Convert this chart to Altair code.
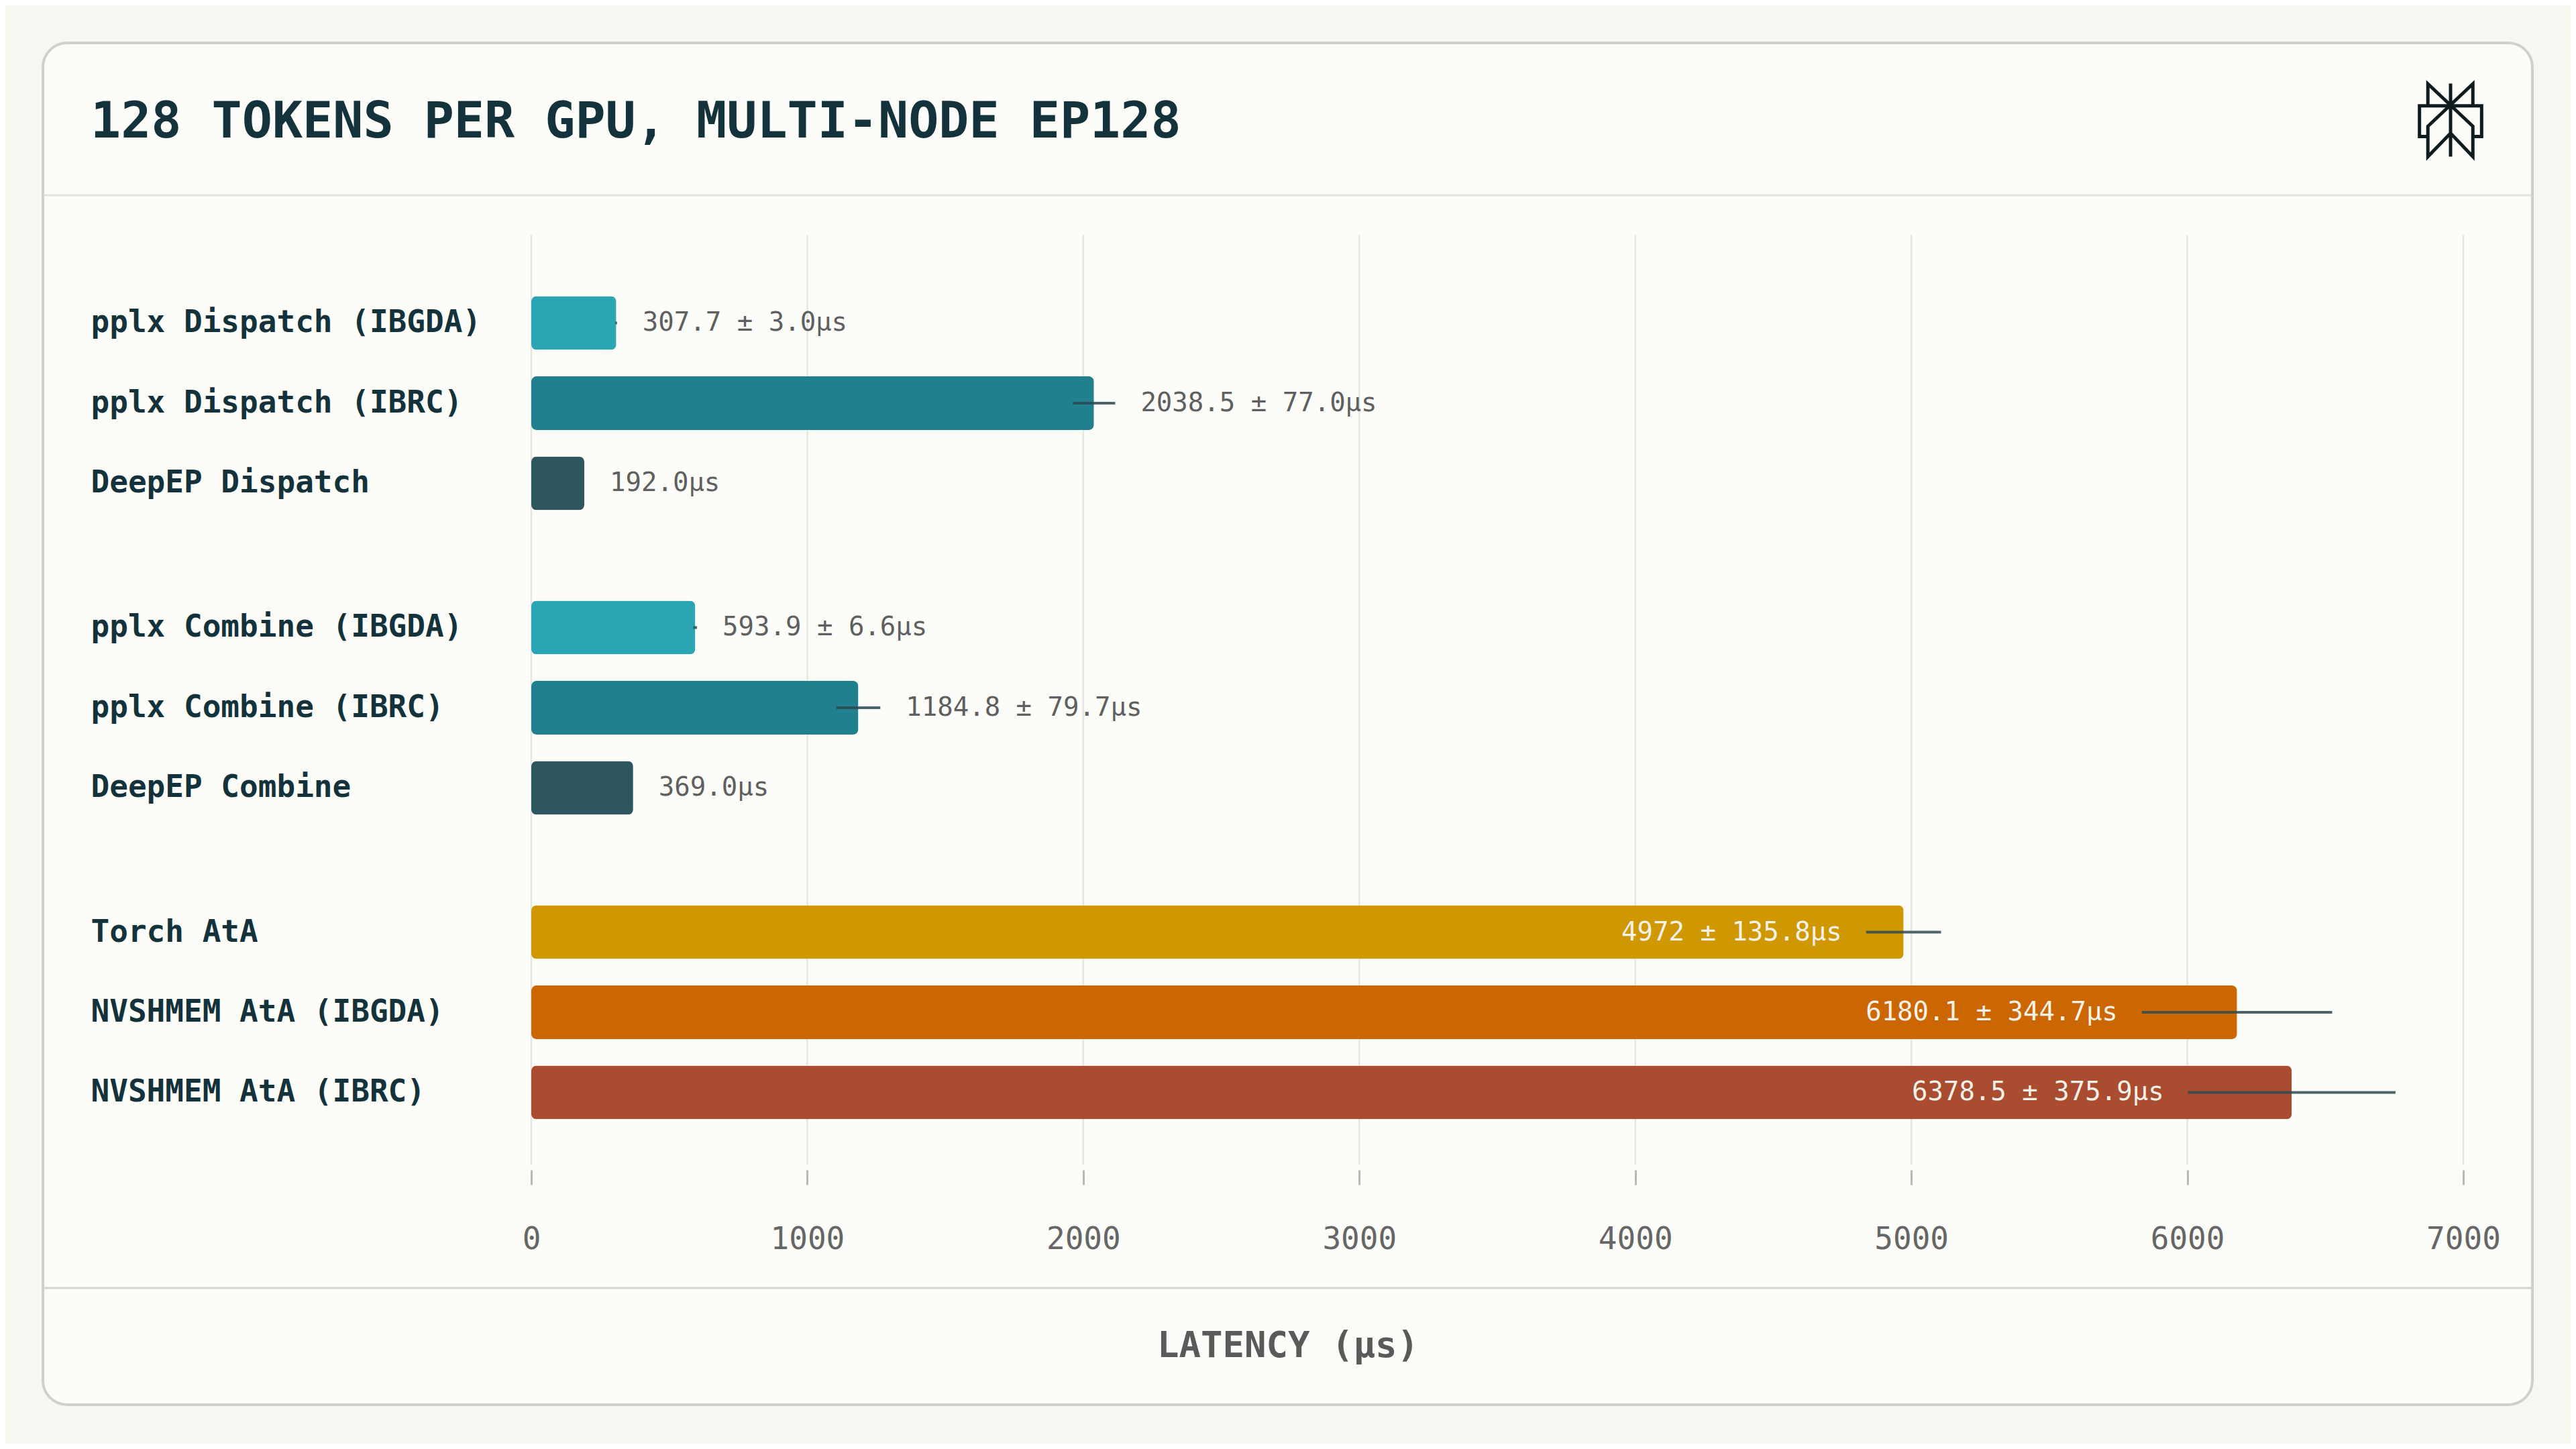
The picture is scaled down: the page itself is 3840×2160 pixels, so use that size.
import altair as alt
import pandas as pd

# ---------------- data ----------------
TITLE = "128 TOKENS PER GPU, MULTI-NODE EP128"
X_TITLE = "LATENCY (μs)"

categories = [
    "pplx Dispatch (IBGDA)",
    "pplx Dispatch (IBRC)",
    "DeepEP Dispatch",
    "pplx Combine (IBGDA)",
    "pplx Combine (IBRC)",
    "DeepEP Combine",
    "Torch AtA",
    "NVSHMEM AtA (IBGDA)",
    "NVSHMEM AtA (IBRC)",
]
groups = [0, 0, 0, 1, 1, 1, 2, 2, 2]
latency_us = [307.7, 2038.5, 192.0, 593.9, 1184.8, 369.0, 4972.0, 6180.1, 6378.5]
error_us = [3.0, 77.0, 0.0, 6.6, 79.7, 0.0, 135.8, 344.7, 375.9]
value_labels = [
    "307.7 ± 3.0μs",
    "2038.5 ± 77.0μs",
    "192.0μs",
    "593.9 ± 6.6μs",
    "1184.8 ± 79.7μs",
    "369.0μs",
    "4972 ± 135.8μs",
    "6180.1 ± 344.7μs",
    "6378.5 ± 375.9μs",
]
bar_colors = [
    "#2ba4b4", "#20808d", "#2e565e",
    "#2ba4b4", "#20808d", "#2e565e",
    "#cf9700", "#cc6600", "#a94c30",
]
label_inside = [False, False, False, False, False, False, True, True, True]
x_ticks = [0, 1000, 2000, 3000, 4000, 5000, 6000, 7000]

# ---------------- row layout (fine band grid with blank spacer rows) ----------------
TOP_BLANK, ROW_STEP, GROUP_STEP, BOTTOM_BLANK = 5, 5, 9, 4
row_order = []
_spacer = [0]


def _blank(n):
    for _ in range(n):
        row_order.append(f"_s{_spacer[0]}")
        _spacer[0] += 1


_blank(TOP_BLANK)
for i, cat in enumerate(categories):
    if i > 0:
        step = GROUP_STEP if groups[i] != groups[i - 1] else ROW_STEP
        _blank(step - 1)
    row_order.append(cat)
_blank(BOTTOM_BLANK)

df = pd.DataFrame({
    "category": categories,
    "latency": latency_us,
    "err": error_us,
    "label": value_labels,
    "color": bar_colors,
    "inside": label_inside,
})
df["lo"] = df["latency"] - df["err"]
df["hi"] = df["latency"] + df["err"]

one = pd.DataFrame({"k": [0]})
ticks_df = pd.DataFrame({"t": x_ticks})

# ---------------- style ----------------
FONT = "DejaVu Sans Mono"
PAGE = "#f7f7f2"
CARD = "#fcfcf9"
BORDER = "#d0d0c8"
SEP = "#e2e2dd"
GRID = "#e6e6e1"
DARK = "#14323b"
GRAY = "#5f5f5f"
W, H = 2880, 1386

xscale = alt.Scale(domain=[0, 7000], nice=False, zero=True)
yscale = alt.Scale(domain=row_order, paddingInner=0, paddingOuter=0)

xaxis = alt.Axis(
    values=x_ticks, format="d", title=None, grid=False, domain=False,
    ticks=True, tickSize=22, tickWidth=3, tickColor="#b9b9b3", offset=8,
    labelFont=FONT, labelFontSize=46, labelColor="#666666",
    labelPadding=81, labelBaseline="middle", labelFlush=False, zindex=1,
)
yaxis = alt.Axis(
    title=None, grid=False, domain=False, ticks=False, tickSize=0,
    labelFont=FONT, labelFontSize=46, labelFontWeight="bold", labelColor=DARK,
    labelAlign="left", labelBaseline="middle", labelPadding=657, labelLimit=0,
    labelOverlap=False,
    labelExpr="indexof(datum.label, '_s') === 0 ? '' : datum.label", zindex=1,
)

Y = alt.Y("category:N", scale=yscale, axis=yaxis, sort=row_order)

# ---------------- layers ----------------
card = alt.Chart(one).mark_rect(
    fill=CARD, stroke=BORDER, strokeWidth=4, cornerRadius=36
).encode(x=alt.value(-728), x2=alt.value(2983), y=alt.value(-286), y2=alt.value(1744))

sep_top = alt.Chart(one).mark_rule(color=SEP, strokeWidth=3).encode(
    x=alt.value(-726), x2=alt.value(2981), y=alt.value(-59)
)
sep_bottom = alt.Chart(one).mark_rule(color="#d3d3cc", strokeWidth=3).encode(
    x=alt.value(-726), x2=alt.value(2981), y=alt.value(1570)
)

grid = alt.Chart(ticks_df).mark_rule(color=GRID, strokeWidth=2.5).encode(
    x=alt.X("t:Q", scale=xscale, axis=xaxis), y=alt.value(0), y2=alt.value(H)
)

bars = alt.Chart(df).mark_bar(cornerRadius=8, size=80).encode(
    x=alt.X("latency:Q", scale=xscale, axis=xaxis),
    y=Y,
    color=alt.Color("color:N", scale=None),
)

errbars = alt.Chart(df).transform_filter("datum.err > 0").mark_rule(
    color="#2d4a51", strokeWidth=4, opacity=0.85
).encode(x=alt.X("lo:Q", scale=xscale, axis=xaxis), x2="hi:Q", y=Y)

text_out = alt.Chart(df).transform_filter("!datum.inside").mark_text(
    align="left", baseline="middle", dx=38, font=FONT, fontSize=39, color=GRAY
).encode(x=alt.X("hi:Q", scale=xscale, axis=xaxis), y=Y, text="label:N")

text_in = alt.Chart(df).transform_filter("datum.inside").mark_text(
    align="right", baseline="middle", dx=-36, font=FONT, fontSize=39, color="#f6f2ea"
).encode(x=alt.X("lo:Q", scale=xscale, axis=xaxis), y=Y, text="label:N")

title_txt = alt.Chart(one).mark_text(
    text=TITLE, align="left", baseline="middle", font=FONT, fontSize=75,
    fontWeight="bold", color=DARK
).encode(x=alt.value(-657), y=alt.value(-168))

xtitle_txt = alt.Chart(one).mark_text(
    text=X_TITLE, align="center", baseline="middle", font=FONT, fontSize=54,
    fontWeight="bold", color="#5a5a5a"
).encode(x=alt.value(1128), y=alt.value(1657))

LOGO_PATH = (
    "M0,-1L0,1"
    "M-0.62,-0.39L-0.62,-0.99L0.61,0.17L0.61,1L0,0.36L-0.62,1L-0.62,0.17L0.61,-0.99L0.61,-0.39"
    "M-0.62,0.45L-0.85,0.45L-0.85,-0.39L0.85,-0.39L0.85,0.45L0.61,0.45"
)
logo = alt.Chart(one).mark_point(
    shape=LOGO_PATH, size=11881, filled=False, color="#0e1c1f", strokeWidth=5, opacity=1
).encode(x=alt.value(2861), y=alt.value(-171))

chart = alt.layer(
    card, sep_top, sep_bottom, grid, bars, errbars, text_out, text_in,
    title_txt, xtitle_txt, logo
).properties(
    width=W, height=H,
    padding={"left": 784, "top": 342, "right": 160, "bottom": 416},
    autosize="none",
    background=PAGE,
).configure_view(stroke=None)

chart.save("out.html", embed_options={"renderer": "svg", "actions": False})
